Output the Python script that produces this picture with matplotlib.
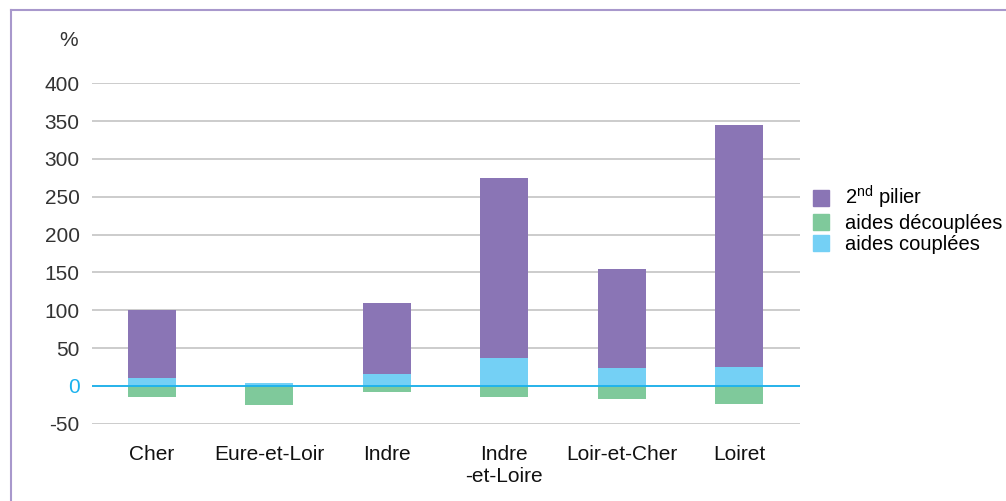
import matplotlib.pyplot as plt
from matplotlib.lines import Line2D
from matplotlib.patches import Patch
import numpy as np

plt.rcParams['font.family'] = ['Liberation Sans', 'DejaVu Sans']
plt.rcParams['mathtext.default'] = 'regular'
plt.rcParams['axes.unicode_minus'] = False

departements = ['Cher', 'Eure-et-Loir', 'Indre', 'Indre\n-et-Loire', 'Loir-et-Cher', 'Loiret']
aides_couplees = [10, 4, 16, 37, 24, 25]
second_pilier = [90, 0, 94, 238, 131, 320]
aides_decouplees = [-14, -25, -7.5, -14, -17, -24]

violet = '#8a75b5'
vert = '#7fc99b'
bleu = '#74d0f5'

fig = plt.figure(figsize=(10.06, 5.01), dpi=100)
ax = fig.add_axes([0.0915, 0.154, 0.704, 0.68])

x = np.arange(len(departements))
w = 0.41
ax.bar(x, aides_couplees, w, color=bleu, zorder=2)
ax.bar(x, second_pilier, w, bottom=aides_couplees, color=violet, zorder=2)
ax.bar(x, aides_decouplees, w, color=vert, zorder=2)

ax.set_xlim(-0.51, 5.52)
ax.set_ylim(-50, 400)
ax.set_yticks(range(-50, 401, 50))
ax.grid(axis='y', color='#c4c4c4', lw=1.2, zorder=0)
ax.axhline(0, color='#1ab2ee', lw=1.3, zorder=3)
for s in ax.spines.values():
    s.set_visible(False)
ax.tick_params(length=0)
ax.tick_params(axis='y', pad=9, labelsize=15, labelcolor='#333333')
ax.tick_params(axis='x', pad=15, labelsize=15, labelcolor='#111111')
ax.set_xticks(x)
ax.set_xticklabels(departements, va='top', linespacing=1.25)
fig.canvas.draw()
for lab, v in zip(ax.get_yticklabels(), ax.get_yticks()):
    if v == 0:
        lab.set_color('#1ab2ee')

fig.text(0.068, 0.92, '%', fontsize=15, color='#333333', ha='center', va='center')

handles = [Patch(color=violet), Patch(color=vert), Patch(color=bleu)]
labels = ['2$^{nd}$ pilier', 'aides découplées', 'aides couplées']
fig.legend(handles, labels, loc='center left', bbox_to_anchor=(0.8, 0.563),
           frameon=False, fontsize=14.5, handlelength=0.8, handleheight=0.85,
           handletextpad=0.8, labelspacing=0.12, borderaxespad=0)

cadre = '#a898cc'
fig.add_artist(Line2D([0.011, 0.011], [0, 0.98], color=cadre, lw=1.5))
fig.add_artist(Line2D([0.011, 1], [0.98, 0.98], color=cadre, lw=1.5))

plt.savefig('out.png', dpi=100)
